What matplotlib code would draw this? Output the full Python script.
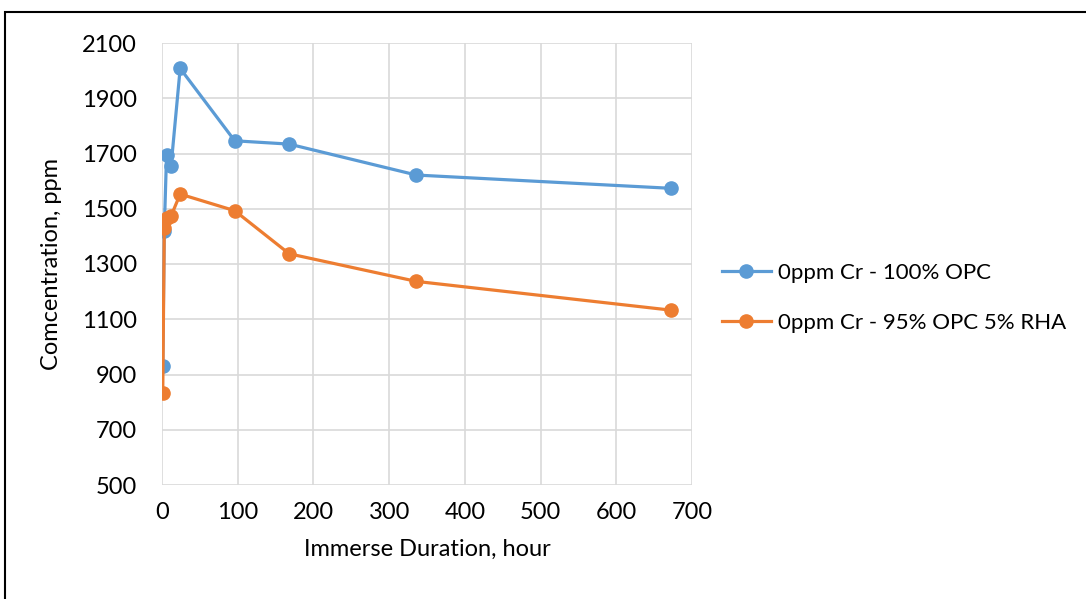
import matplotlib.pyplot as plt
from matplotlib.patches import Rectangle

# immersion time (hours) and concentration (ppm)
hours = [1, 3, 6, 12, 24, 96, 168, 336, 672]
opc_100 = [930, 1420, 1695, 1655, 2008, 1746, 1734, 1622, 1574]
opc_95_rha_5 = [832, 1430, 1466, 1474, 1553, 1493, 1337, 1237, 1133]

labels = ["0ppm Cr - 100% OPC", "0ppm Cr - 95% OPC 5% RHA"]
colors = ["#5B9BD5", "#ED7D31"]

plt.rcParams["font.family"] = ["Lato", "DejaVu Sans"]
FS = 17

fig = plt.figure(figsize=(10.86, 5.99), dpi=100)
ax = fig.add_axes([162 / 1086, 1 - 485 / 599, 530 / 1086, 442 / 599])

for ys, lab, c in zip([opc_100, opc_95_rha_5], labels, colors):
    ax.plot(hours, ys, color=c, lw=2.3, marker="o", ms=9.5, label=lab,
            solid_joinstyle="round")

ax.set_xlim(0, 700)
ax.set_ylim(500, 2100)
ax.set_xticks(range(0, 701, 100))
ax.set_yticks(range(500, 2101, 200))
ax.grid(True, color="#d9d9d9", lw=1.2)
ax.set_axisbelow(True)
for s in ax.spines.values():
    s.set_visible(False)
ax.tick_params(axis="y", length=0, labelsize=FS, pad=18)
ax.tick_params(axis="x", length=0, labelsize=FS, pad=12)
ax.set_xlabel("Immerse Duration, hour", fontsize=FS, labelpad=12)
ax.set_ylabel("Comcentration, ppm", fontsize=FS, labelpad=14)

ax.legend(loc="center left", bbox_to_anchor=(722 / 1086, 1 - 298 / 599),
          bbox_transform=fig.transFigure, frameon=False, fontsize=16,
          handlelength=2.2, labelspacing=1.35, handletextpad=0.3,
          borderpad=0, borderaxespad=0)

# outer chart border (partly cropped in the original)
fig.patches.append(Rectangle((5 / 1086, -0.1), 1.2, 1 - 12 / 599 + 0.1,
                             transform=fig.transFigure, fill=False,
                             edgecolor="black", lw=1.5))

fig.savefig("out.png", dpi=100)
